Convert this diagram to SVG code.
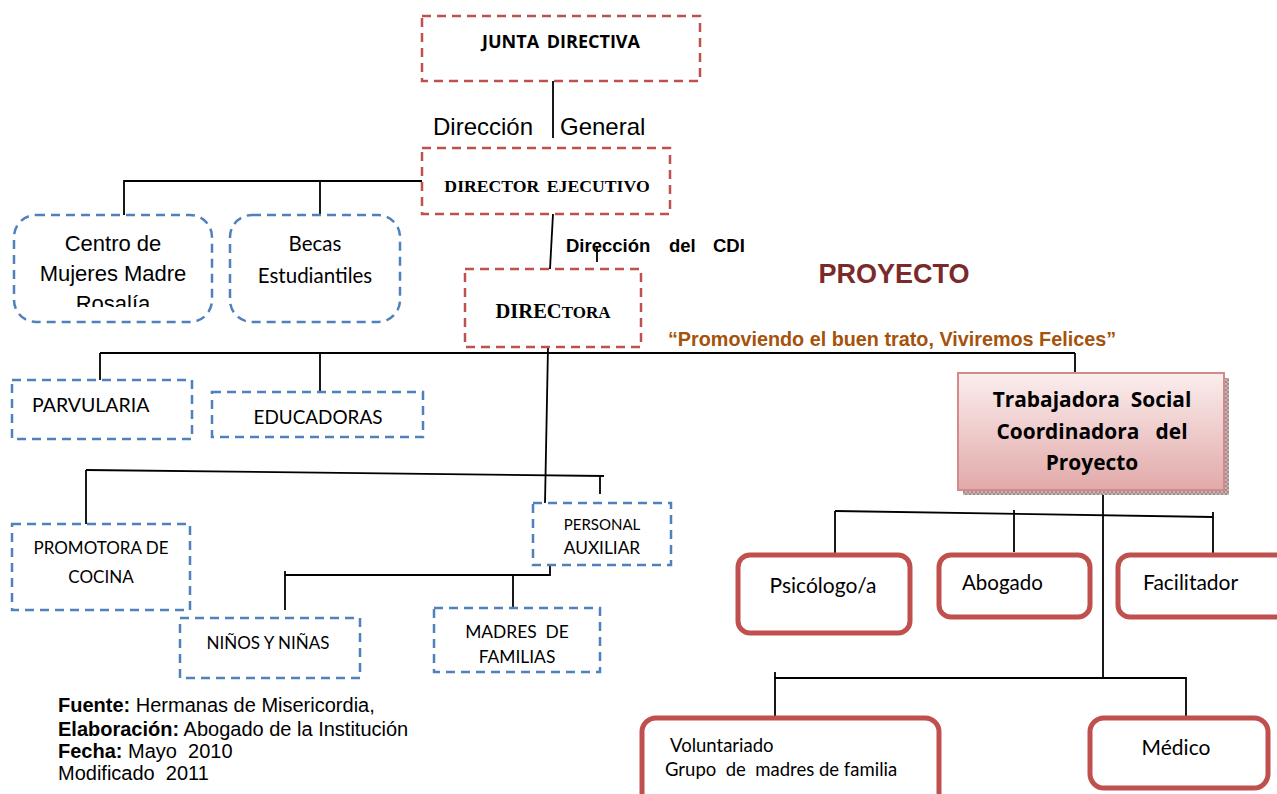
<svg xmlns="http://www.w3.org/2000/svg" width="1277" height="794" viewBox="0 0 1277 794">
<style>
.rd{fill:none;stroke:#c0504d;stroke-width:2.5;stroke-dasharray:9,6}
.bd{fill:none;stroke:#4f81bd;stroke-width:2.5;stroke-dasharray:9,6}
.rr{fill:#fff;stroke:#c0504d;stroke-width:5}
.ln{fill:none;stroke:#000;stroke-width:1.8}
.cal{font-family:Lato,"Open Sans","Liberation Sans",sans-serif;fill:#000}
.ar{font-family:"Liberation Sans",Arial,sans-serif;fill:#000}
.sb{font-family:"Liberation Serif",serif;font-weight:bold;fill:#000}
</style>
<defs>
<linearGradient id="pg" x1="0" y1="0" x2="0" y2="1">
<stop offset="0" stop-color="#fbeeee"/>
<stop offset="1" stop-color="#e2a9a9"/>
</linearGradient>
<pattern id="hatch" width="4" height="4" patternUnits="userSpaceOnUse">
<rect width="4" height="4" fill="#c9b4b4"/>
<path d="M0 0L4 4M4 0L0 4" stroke="#8a7070" stroke-width="0.6"/>
</pattern>
</defs>
<rect width="1277" height="794" fill="#fff"/>

<g id="connectors">
<line class="ln" x1="553" y1="81" x2="553" y2="138"/>
<polyline class="ln" points="422,181 124,181 124,215"/>
<line class="ln" x1="320" y1="181" x2="320" y2="215"/>
<line class="ln" x1="553" y1="214" x2="550" y2="269"/>
<line class="ln" x1="597" y1="247" x2="597" y2="262"/>
<line class="ln" x1="100" y1="353" x2="1075" y2="353"/>
<line class="ln" x1="100" y1="353" x2="100" y2="380"/>
<line class="ln" x1="320" y1="353" x2="320" y2="392"/>
<line class="ln" x1="1075" y1="353" x2="1075" y2="373"/>
<line class="ln" x1="548" y1="347" x2="545" y2="503"/>
<line class="ln" x1="86" y1="470" x2="604" y2="476"/>
<line class="ln" x1="86" y1="470" x2="86" y2="524"/>
<line class="ln" x1="600" y1="476" x2="600" y2="494"/>
<polyline class="ln" points="550,565 550,575 285,575"/>
<line class="ln" x1="285" y1="571" x2="285" y2="610"/>
<line class="ln" x1="513" y1="575" x2="513" y2="608"/>
<line class="ln" x1="1103" y1="490" x2="1103" y2="678"/>
<line class="ln" x1="835" y1="511" x2="1213" y2="517"/>
<line class="ln" x1="835" y1="511" x2="835" y2="553"/>
<line class="ln" x1="1014" y1="510" x2="1014" y2="552"/>
<line class="ln" x1="1213" y1="512" x2="1213" y2="556"/>
<polyline class="ln" points="775,718 775,678 1186,678 1186,717"/>
<line class="ln" x1="775" y1="672" x2="775" y2="678"/>
</g>

<g id="junta">
<rect class="rd" x="422" y="16" width="278" height="65"/>
<text x="561" y="48" text-anchor="middle" font-family="'Open Sans',Lato,sans-serif" font-weight="bold" font-size="18" word-spacing="3">JUNTA DIRECTIVA</text>
</g>

<g id="label-direccion-general">
<text class="ar" x="433" y="135" font-size="24">Dirección</text>
<text class="ar" x="560" y="135" font-size="24">General</text>
</g>

<g id="director">
<rect class="rd" x="422" y="148" width="248" height="66"/>
<text class="sb" x="547" y="192" text-anchor="middle" font-size="17.7" word-spacing="3">DIRECTOR EJECUTIVO</text>
</g>

<g id="centro">
<rect class="bd" x="14" y="215" width="198" height="107" rx="22"/>
<text class="ar" x="113" y="251" text-anchor="middle" font-size="22">Centro de</text>
<text class="ar" x="113" y="281" text-anchor="middle" font-size="22">Mujeres Madre</text>
<clipPath id="cc"><rect x="14" y="215" width="198" height="92"/></clipPath>
<text class="ar" x="113" y="311" text-anchor="middle" font-size="22" clip-path="url(#cc)">Rosalía</text>
</g>

<g id="becas">
<rect class="bd" x="230" y="215" width="170" height="107" rx="22"/>
<text class="cal" x="315" y="251" text-anchor="middle" font-size="20.5">Becas</text>
<text class="cal" x="315" y="283" text-anchor="middle" font-size="20.5">Estudiantiles</text>
</g>

<g id="label-cdi">
<text class="ar" y="252" font-size="18.5" font-weight="bold"><tspan x="566">Dirección</tspan><tspan x="669">del</tspan><tspan x="713">CDI</tspan></text>
</g>

<g id="directora">
<rect class="rd" x="465" y="269" width="176" height="78"/>
<text class="sb" x="553" y="318" text-anchor="middle" font-size="20.5">DIREC<tspan font-size="17">TORA</tspan></text>
</g>

<g id="proyecto">
<text x="894" y="283" text-anchor="middle" font-family="'Liberation Sans',Arial,sans-serif" font-weight="bold" font-size="27" fill="#7a2a2a">PROYECTO</text>
<text x="892" y="346" text-anchor="middle" font-family="'Liberation Sans',Arial,sans-serif" font-weight="bold" font-size="19.8" fill="#a5520c">“Promoviendo el buen trato, Viviremos Felices”</text>
</g>

<g id="parvularia">
<rect class="bd" x="12" y="380" width="180" height="59"/>
<text class="cal" x="32" y="412" font-size="19.5">PARVULARIA</text>
</g>

<g id="educadoras">
<rect class="bd" x="212" y="392" width="211" height="45"/>
<text class="cal" x="318" y="424" text-anchor="middle" font-size="18.9">EDUCADORAS</text>
</g>

<g id="promotora">
<rect class="bd" x="12" y="524" width="178" height="86"/>
<text class="cal" x="101" y="554" text-anchor="middle" font-size="17">PROMOTORA DE</text>
<text class="cal" x="101" y="583" text-anchor="middle" font-size="17">COCINA</text>
</g>

<g id="personal">
<rect class="bd" x="533" y="503" width="138" height="62"/>
<text class="cal" x="602" y="530" text-anchor="middle" font-size="15">PERSONAL</text>
<text class="cal" x="602" y="554" text-anchor="middle" font-size="17.3">AUXILIAR</text>
</g>

<g id="ninos">
<rect class="bd" x="180" y="618" width="180" height="60"/>
<text class="cal" x="268" y="649" text-anchor="middle" font-size="17">NIÑOS Y NIÑAS</text>
</g>

<g id="madres">
<rect class="bd" x="434" y="608" width="166" height="64"/>
<text class="cal" x="517" y="638" text-anchor="middle" font-size="17.4" xml:space="preserve">MADRES  DE</text>
<text class="cal" x="517" y="663" text-anchor="middle" font-size="17.4">FAMILIAS</text>
</g>

<g id="trabajadora">
<rect x="963" y="378" width="266" height="117" fill="url(#hatch)"/>
<rect x="958" y="373" width="266" height="117" fill="url(#pg)" stroke="#d48a8a" stroke-width="2"/>
<text x="1092" y="407" text-anchor="middle" font-family="'Open Sans',Lato,sans-serif" font-weight="bold" font-size="20.9" xml:space="preserve">Trabajadora  Social</text>
<text x="1092" y="439" text-anchor="middle" font-family="'Open Sans',Lato,sans-serif" font-weight="bold" font-size="20.9" xml:space="preserve">Coordinadora   del</text>
<text x="1092" y="470" text-anchor="middle" font-family="'Open Sans',Lato,sans-serif" font-weight="bold" font-size="20.9">Proyecto</text>
</g>

<g id="psicologo">
<rect class="rr" x="738" y="555" width="172" height="78" rx="12"/>
<text class="cal" x="823" y="593" text-anchor="middle" font-size="21">Psicólogo/a</text>
</g>

<g id="abogado">
<rect class="rr" x="939" y="555" width="151" height="62" rx="12"/>
<text class="cal" x="962" y="590" font-size="20.5">Abogado</text>
</g>

<g id="facilitador">
<rect class="rr" x="1118" y="555" width="170" height="62" rx="12"/>
<text class="cal" x="1143" y="590" font-size="21">Facilitador</text>
</g>

<g id="voluntariado">
<rect class="rr" x="642" y="718" width="297" height="90" rx="14"/>
<text class="cal" x="670" y="752" font-size="18.5">Voluntariado</text>
<text class="cal" x="665" y="776" font-size="18.5" xml:space="preserve">Grupo  de  madres de familia</text>
</g>

<g id="medico">
<rect class="rr" x="1090" y="718" width="178" height="70" rx="14"/>
<text class="cal" x="1176" y="755" text-anchor="middle" font-size="21">Médico</text>
</g>

<g id="footer" class="ar" font-size="20">
<text x="58" y="712"><tspan font-weight="bold">Fuente:</tspan> Hermanas de Misericordia,</text>
<text x="58" y="736"><tspan font-weight="bold">Elaboración:</tspan> Abogado de la Institución</text>
<text x="58" y="758" xml:space="preserve"><tspan font-weight="bold">Fecha:</tspan> Mayo  2010</text>
<text x="58" y="780" xml:space="preserve">Modificado  2011</text>
</g>
</svg>
